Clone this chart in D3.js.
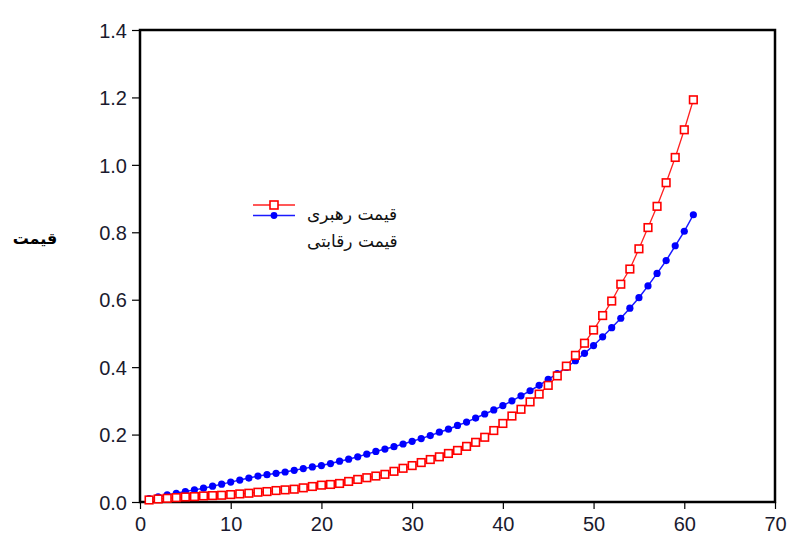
<!DOCTYPE html>
<html><head><meta charset="utf-8">
<script src="https://cdn.jsdelivr.net/npm/d3@7"></script>
<style>
html,body{margin:0;padding:0;background:#fff;}
svg{display:block;}
text{font-family:"Liberation Sans",Arial,"DejaVu Sans",sans-serif;}
</style></head>
<body>
<svg id="chart" width="787" height="536"></svg>
<script>
const periods = d3.range(1, 62);
const leaderPrice = [0.006,0.009,0.011,0.013,0.015,0.016,0.018,0.019,0.020,0.022,
  0.024,0.026,0.029,0.031,0.034,0.036,0.038,0.042,0.046,0.050,
  0.052,0.055,0.061,0.067,0.072,0.077,0.082,0.091,0.100,0.108,
  0.117,0.126,0.134,0.144,0.153,0.165,0.177,0.192,0.212,0.233,
  0.255,0.275,0.297,0.320,0.346,0.374,0.403,0.435,0.471,0.510,
  0.553,0.596,0.646,0.691,0.751,0.814,0.877,0.947,1.022,1.104,1.193];
const competitivePrice = [0.010,0.015,0.021,0.026,0.031,0.036,0.041,0.047,0.053,0.059,
  0.065,0.071,0.077,0.081,0.085,0.089,0.094,0.099,0.104,0.108,
  0.114,0.121,0.127,0.134,0.142,0.150,0.157,0.164,0.172,0.180,
  0.188,0.197,0.207,0.216,0.227,0.237,0.249,0.261,0.273,0.286,
  0.300,0.315,0.330,0.346,0.364,0.381,0.399,0.419,0.441,0.464,
  0.490,0.517,0.545,0.575,0.606,0.641,0.678,0.716,0.760,0.803,0.852];
const xTicks = [0,10,20,30,40,50,60,70];
const yTicks = [0.0,0.2,0.4,0.6,0.8,1.0,1.2,1.4];
const seriesNames = ["قیمت رهبری","قیمت رقابتی"];
const yLabel = "قیمت";

const svg = d3.select("#chart");
const L = 140, R = 775, T = 30, B = 502;
const x = d3.scaleLinear().domain([0,70]).range([L,R]);
const y = d3.scaleLinear().domain([0,1.4]).range([B,T]);

// axes
const xAxis = svg.append("g").attr("transform",`translate(0,${B})`)
  .call(d3.axisBottom(x).tickValues(xTicks).tickFormat(d3.format("d")).tickSize(7).tickSizeOuter(0));
const yAxis = svg.append("g").attr("transform",`translate(${L},0)`)
  .call(d3.axisLeft(y).tickValues(yTicks).tickFormat(d3.format(".1f")).tickSize(8).tickSizeOuter(0));
[xAxis,yAxis].forEach(a=>{
  a.select(".domain").remove();
  a.selectAll(".tick line").attr("stroke","#000").attr("stroke-width",1.2);
  a.selectAll(".tick text").attr("fill","#1a1a2e").style("font-size","20px");
});
xAxis.selectAll(".tick text").attr("y",10).attr("dy","0.95em");
yAxis.selectAll(".tick text").attr("x",-13).attr("dy","0.36em");

// frame
svg.append("rect").attr("x",L).attr("y",T).attr("width",R-L).attr("height",B-T)
  .attr("fill","none").attr("stroke","#000").attr("stroke-width",2.5);

// lines
const redData = periods.map((p,i)=>[p,leaderPrice[i]]);
const blueData = periods.map((p,i)=>[p,competitivePrice[i]]);
const line = d3.line().x(d=>x(d[0])).y(d=>y(d[1]));

svg.append("path").datum(blueData).attr("d",line).attr("fill","none").attr("stroke","#1a1aff").attr("stroke-width",1.5);
svg.append("g").selectAll("circle").data(blueData).join("circle")
  .attr("cx",d=>x(d[0])).attr("cy",d=>y(d[1])).attr("r",3.6).attr("fill","#0000ff");

svg.append("path").datum(redData).attr("d",line).attr("fill","none").attr("stroke","#ff2020").attr("stroke-width",1.3);
svg.append("g").selectAll("rect").data(redData).join("rect")
  .attr("x",d=>x(d[0])-3.8).attr("y",d=>y(d[1])-3.8).attr("width",7.6).attr("height",7.6)
  .attr("fill","#fff").attr("stroke","#ff0000").attr("stroke-width",1.6);

// legend
const lg = svg.append("g");
lg.append("line").attr("x1",253).attr("x2",295).attr("y1",205).attr("y2",205).attr("stroke","#ff2020").attr("stroke-width",1.3);
lg.append("rect").attr("x",270).attr("y",201).attr("width",8).attr("height",8).attr("fill","#fff").attr("stroke","#ff0000").attr("stroke-width",1.6);
lg.append("line").attr("x1",253).attr("x2",295).attr("y1",215.5).attr("y2",215.5).attr("stroke","#1a1aff").attr("stroke-width",1.5);
lg.append("circle").attr("cx",274).attr("cy",215.5).attr("r",3.4).attr("fill","#0000ff");
lg.selectAll("text.lt").data(seriesNames).join("text").attr("class","lt")
  .attr("x",307).attr("y",(d,i)=>220+i*27).attr("text-anchor","start")
  .style("font-size","17px").style("font-family","'DejaVu Sans','Noto Sans',sans-serif")
  .attr("fill","#111").text(d=>d);

// y label
svg.append("text").attr("x",35).attr("y",244).attr("text-anchor","middle")
  .style("font-size","16px").style("font-weight","bold").style("font-family","'DejaVu Sans','Noto Sans',sans-serif")
  .attr("fill","#000").text(yLabel);
</script>
</body></html>
